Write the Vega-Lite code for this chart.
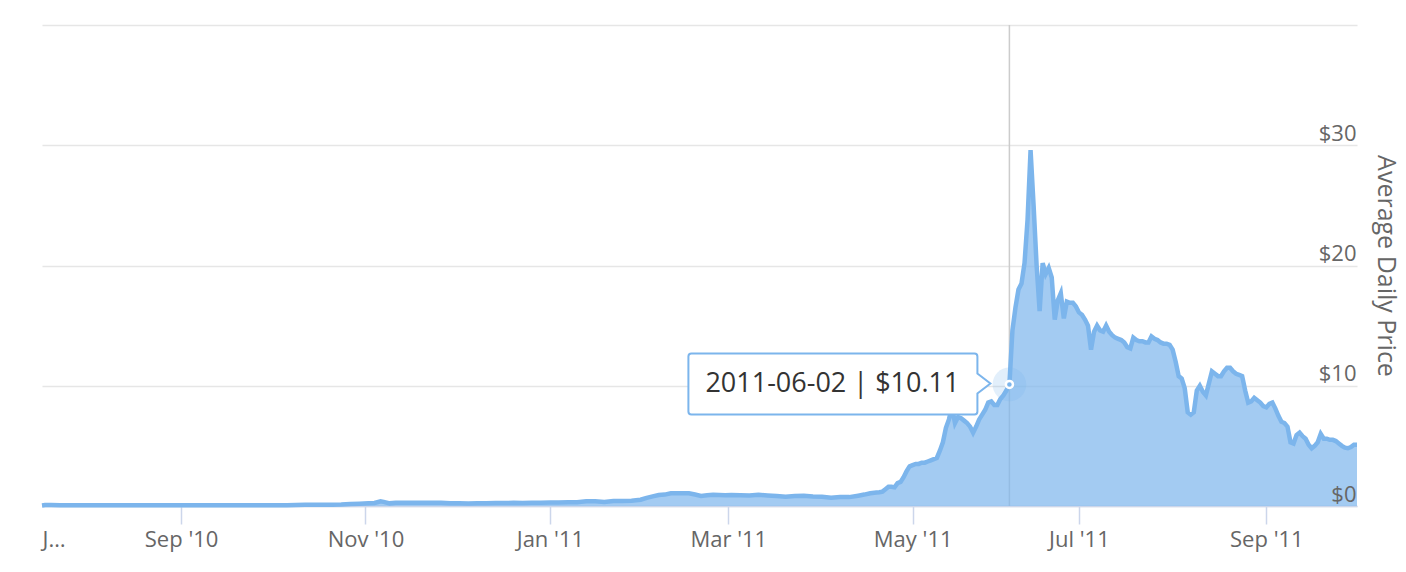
{
  "$schema": "https://vega.github.io/schema/vega-lite/v6.json",
  "width": 1315,
  "height": 481,
  "autosize": {"type": "none"},
  "padding": {"left": 42, "top": 25, "right": 49, "bottom": 66},
  "background": "white",
  "config": {"view": {"stroke": null}},
  "resolve": {"axis": {"y": "independent"}},
  "datasets": {
    "prices": [
      {"date": "2010-07-17", "price": 0.05},
      {"date": "2010-07-18", "price": 0.086},
      {"date": "2010-07-20", "price": 0.08},
      {"date": "2010-07-23", "price": 0.06},
      {"date": "2010-07-26", "price": 0.055},
      {"date": "2010-07-29", "price": 0.07},
      {"date": "2010-08-01", "price": 0.063},
      {"date": "2010-08-04", "price": 0.062},
      {"date": "2010-08-07", "price": 0.059},
      {"date": "2010-08-10", "price": 0.07},
      {"date": "2010-08-13", "price": 0.065},
      {"date": "2010-08-16", "price": 0.067},
      {"date": "2010-08-19", "price": 0.067},
      {"date": "2010-08-22", "price": 0.066},
      {"date": "2010-08-25", "price": 0.066},
      {"date": "2010-08-28", "price": 0.065},
      {"date": "2010-08-31", "price": 0.06},
      {"date": "2010-09-03", "price": 0.061},
      {"date": "2010-09-06", "price": 0.062},
      {"date": "2010-09-09", "price": 0.061},
      {"date": "2010-09-12", "price": 0.062},
      {"date": "2010-09-15", "price": 0.06},
      {"date": "2010-09-18", "price": 0.063},
      {"date": "2010-09-21", "price": 0.062},
      {"date": "2010-09-24", "price": 0.062},
      {"date": "2010-09-27", "price": 0.062},
      {"date": "2010-09-30", "price": 0.062},
      {"date": "2010-10-03", "price": 0.063},
      {"date": "2010-10-06", "price": 0.065},
      {"date": "2010-10-09", "price": 0.085},
      {"date": "2010-10-12", "price": 0.095},
      {"date": "2010-10-15", "price": 0.105},
      {"date": "2010-10-18", "price": 0.102},
      {"date": "2010-10-21", "price": 0.107},
      {"date": "2010-10-24", "price": 0.115},
      {"date": "2010-10-27", "price": 0.165},
      {"date": "2010-10-30", "price": 0.19},
      {"date": "2010-11-02", "price": 0.22},
      {"date": "2010-11-04", "price": 0.25},
      {"date": "2010-11-06", "price": 0.39},
      {"date": "2010-11-07", "price": 0.34},
      {"date": "2010-11-09", "price": 0.22},
      {"date": "2010-11-11", "price": 0.27},
      {"date": "2010-11-14", "price": 0.28},
      {"date": "2010-11-17", "price": 0.26},
      {"date": "2010-11-20", "price": 0.28},
      {"date": "2010-11-23", "price": 0.28},
      {"date": "2010-11-26", "price": 0.28},
      {"date": "2010-11-29", "price": 0.23},
      {"date": "2010-12-02", "price": 0.22},
      {"date": "2010-12-05", "price": 0.2},
      {"date": "2010-12-08", "price": 0.23},
      {"date": "2010-12-11", "price": 0.22},
      {"date": "2010-12-14", "price": 0.24},
      {"date": "2010-12-17", "price": 0.25},
      {"date": "2010-12-20", "price": 0.26},
      {"date": "2010-12-23", "price": 0.25},
      {"date": "2010-12-26", "price": 0.26},
      {"date": "2010-12-29", "price": 0.28},
      {"date": "2011-01-01", "price": 0.3},
      {"date": "2011-01-04", "price": 0.3},
      {"date": "2011-01-07", "price": 0.32},
      {"date": "2011-01-10", "price": 0.32},
      {"date": "2011-01-13", "price": 0.39},
      {"date": "2011-01-16", "price": 0.39},
      {"date": "2011-01-19", "price": 0.34},
      {"date": "2011-01-22", "price": 0.42},
      {"date": "2011-01-25", "price": 0.41},
      {"date": "2011-01-28", "price": 0.44},
      {"date": "2011-01-31", "price": 0.52},
      {"date": "2011-02-02", "price": 0.68},
      {"date": "2011-02-04", "price": 0.8},
      {"date": "2011-02-06", "price": 0.92},
      {"date": "2011-02-08", "price": 0.95},
      {"date": "2011-02-10", "price": 1.06},
      {"date": "2011-02-12", "price": 1.05},
      {"date": "2011-02-14", "price": 1.05},
      {"date": "2011-02-16", "price": 1.05},
      {"date": "2011-02-18", "price": 0.95},
      {"date": "2011-02-20", "price": 0.84},
      {"date": "2011-02-22", "price": 0.89},
      {"date": "2011-02-24", "price": 0.94},
      {"date": "2011-02-26", "price": 0.92},
      {"date": "2011-02-28", "price": 0.9},
      {"date": "2011-03-02", "price": 0.92},
      {"date": "2011-03-05", "price": 0.9},
      {"date": "2011-03-08", "price": 0.87},
      {"date": "2011-03-11", "price": 0.93},
      {"date": "2011-03-14", "price": 0.88},
      {"date": "2011-03-17", "price": 0.83},
      {"date": "2011-03-20", "price": 0.76},
      {"date": "2011-03-23", "price": 0.84},
      {"date": "2011-03-26", "price": 0.86},
      {"date": "2011-03-29", "price": 0.79},
      {"date": "2011-04-01", "price": 0.77},
      {"date": "2011-04-04", "price": 0.68},
      {"date": "2011-04-07", "price": 0.74},
      {"date": "2011-04-10", "price": 0.74},
      {"date": "2011-04-13", "price": 0.86},
      {"date": "2011-04-15", "price": 0.95},
      {"date": "2011-04-17", "price": 1.06},
      {"date": "2011-04-19", "price": 1.12},
      {"date": "2011-04-20", "price": 1.14},
      {"date": "2011-04-21", "price": 1.2},
      {"date": "2011-04-22", "price": 1.4},
      {"date": "2011-04-23", "price": 1.6},
      {"date": "2011-04-24", "price": 1.6},
      {"date": "2011-04-25", "price": 1.55},
      {"date": "2011-04-26", "price": 1.9},
      {"date": "2011-04-27", "price": 2.0},
      {"date": "2011-04-28", "price": 2.4},
      {"date": "2011-04-29", "price": 2.9},
      {"date": "2011-04-30", "price": 3.3},
      {"date": "2011-05-01", "price": 3.4},
      {"date": "2011-05-02", "price": 3.5},
      {"date": "2011-05-03", "price": 3.5},
      {"date": "2011-05-04", "price": 3.6},
      {"date": "2011-05-05", "price": 3.6},
      {"date": "2011-05-06", "price": 3.7},
      {"date": "2011-05-07", "price": 3.8},
      {"date": "2011-05-08", "price": 3.9},
      {"date": "2011-05-09", "price": 4.0},
      {"date": "2011-05-10", "price": 4.6},
      {"date": "2011-05-11", "price": 5.3},
      {"date": "2011-05-12", "price": 6.5},
      {"date": "2011-05-13", "price": 7.2},
      {"date": "2011-05-14", "price": 8.2},
      {"date": "2011-05-15", "price": 6.9},
      {"date": "2011-05-16", "price": 7.4},
      {"date": "2011-05-17", "price": 7.3},
      {"date": "2011-05-18", "price": 7.1},
      {"date": "2011-05-19", "price": 6.9},
      {"date": "2011-05-20", "price": 6.6},
      {"date": "2011-05-21", "price": 6.1},
      {"date": "2011-05-22", "price": 6.6},
      {"date": "2011-05-23", "price": 7.2},
      {"date": "2011-05-24", "price": 7.6},
      {"date": "2011-05-25", "price": 8.0},
      {"date": "2011-05-26", "price": 8.6},
      {"date": "2011-05-27", "price": 8.7},
      {"date": "2011-05-28", "price": 8.4},
      {"date": "2011-05-29", "price": 8.4},
      {"date": "2011-05-30", "price": 8.9},
      {"date": "2011-05-31", "price": 9.2},
      {"date": "2011-06-01", "price": 9.6},
      {"date": "2011-06-02", "price": 10.11},
      {"date": "2011-06-03", "price": 14.6},
      {"date": "2011-06-04", "price": 16.5},
      {"date": "2011-06-05", "price": 18.0},
      {"date": "2011-06-06", "price": 18.5},
      {"date": "2011-06-07", "price": 20.2},
      {"date": "2011-06-08", "price": 23.8},
      {"date": "2011-06-09", "price": 29.6},
      {"date": "2011-06-10", "price": 25.0},
      {"date": "2011-06-11", "price": 20.0},
      {"date": "2011-06-12", "price": 16.2},
      {"date": "2011-06-13", "price": 20.2},
      {"date": "2011-06-14", "price": 19.3},
      {"date": "2011-06-15", "price": 19.8},
      {"date": "2011-06-16", "price": 19.0},
      {"date": "2011-06-17", "price": 15.5},
      {"date": "2011-06-18", "price": 17.1},
      {"date": "2011-06-19", "price": 17.7},
      {"date": "2011-06-25", "price": 17.7},
      {"date": "2011-06-26", "price": 15.6},
      {"date": "2011-06-27", "price": 17.0},
      {"date": "2011-06-28", "price": 16.9},
      {"date": "2011-06-29", "price": 16.9},
      {"date": "2011-06-30", "price": 16.6},
      {"date": "2011-07-01", "price": 16.1},
      {"date": "2011-07-02", "price": 15.9},
      {"date": "2011-07-03", "price": 15.5},
      {"date": "2011-07-04", "price": 15.0},
      {"date": "2011-07-05", "price": 13.0},
      {"date": "2011-07-06", "price": 14.5},
      {"date": "2011-07-07", "price": 15.0},
      {"date": "2011-07-08", "price": 14.6},
      {"date": "2011-07-09", "price": 14.5},
      {"date": "2011-07-10", "price": 15.0},
      {"date": "2011-07-11", "price": 14.5},
      {"date": "2011-07-12", "price": 14.2},
      {"date": "2011-07-13", "price": 14.0},
      {"date": "2011-07-14", "price": 13.9},
      {"date": "2011-07-15", "price": 13.8},
      {"date": "2011-07-16", "price": 13.6},
      {"date": "2011-07-17", "price": 13.2},
      {"date": "2011-07-18", "price": 13.1},
      {"date": "2011-07-19", "price": 14.0},
      {"date": "2011-07-20", "price": 13.8},
      {"date": "2011-07-21", "price": 13.7},
      {"date": "2011-07-22", "price": 13.7},
      {"date": "2011-07-23", "price": 13.6},
      {"date": "2011-07-24", "price": 13.6},
      {"date": "2011-07-25", "price": 14.1},
      {"date": "2011-07-26", "price": 13.9},
      {"date": "2011-07-27", "price": 13.8},
      {"date": "2011-07-28", "price": 13.6},
      {"date": "2011-07-29", "price": 13.5},
      {"date": "2011-07-30", "price": 13.5},
      {"date": "2011-07-31", "price": 13.4},
      {"date": "2011-08-01", "price": 13.0},
      {"date": "2011-08-02", "price": 12.0},
      {"date": "2011-08-03", "price": 10.8},
      {"date": "2011-08-04", "price": 10.6},
      {"date": "2011-08-05", "price": 9.8},
      {"date": "2011-08-06", "price": 7.8},
      {"date": "2011-08-07", "price": 7.6},
      {"date": "2011-08-08", "price": 7.8},
      {"date": "2011-08-09", "price": 9.6},
      {"date": "2011-08-10", "price": 10.0},
      {"date": "2011-08-11", "price": 9.5},
      {"date": "2011-08-12", "price": 9.2},
      {"date": "2011-08-13", "price": 10.2},
      {"date": "2011-08-14", "price": 11.2},
      {"date": "2011-08-15", "price": 11.0},
      {"date": "2011-08-16", "price": 10.8},
      {"date": "2011-08-17", "price": 10.8},
      {"date": "2011-08-18", "price": 11.2},
      {"date": "2011-08-19", "price": 11.5},
      {"date": "2011-08-20", "price": 11.5},
      {"date": "2011-08-21", "price": 11.2},
      {"date": "2011-08-22", "price": 11.0},
      {"date": "2011-08-23", "price": 10.9},
      {"date": "2011-08-24", "price": 10.8},
      {"date": "2011-08-25", "price": 9.6},
      {"date": "2011-08-26", "price": 8.6},
      {"date": "2011-08-27", "price": 8.7},
      {"date": "2011-08-28", "price": 9.0},
      {"date": "2011-08-29", "price": 8.8},
      {"date": "2011-08-30", "price": 8.6},
      {"date": "2011-08-31", "price": 8.3},
      {"date": "2011-09-01", "price": 8.2},
      {"date": "2011-09-02", "price": 8.5},
      {"date": "2011-09-03", "price": 8.6},
      {"date": "2011-09-04", "price": 8.1},
      {"date": "2011-09-05", "price": 7.5},
      {"date": "2011-09-06", "price": 7.0},
      {"date": "2011-09-07", "price": 6.9},
      {"date": "2011-09-08", "price": 6.6},
      {"date": "2011-09-09", "price": 5.3},
      {"date": "2011-09-10", "price": 5.2},
      {"date": "2011-09-11", "price": 5.9},
      {"date": "2011-09-12", "price": 6.1},
      {"date": "2011-09-13", "price": 5.8},
      {"date": "2011-09-14", "price": 5.6},
      {"date": "2011-09-15", "price": 5.1},
      {"date": "2011-09-16", "price": 4.8},
      {"date": "2011-09-17", "price": 5.0},
      {"date": "2011-09-18", "price": 5.3},
      {"date": "2011-09-19", "price": 6.0},
      {"date": "2011-09-20", "price": 5.6},
      {"date": "2011-09-21", "price": 5.6},
      {"date": "2011-09-22", "price": 5.5},
      {"date": "2011-09-23", "price": 5.5},
      {"date": "2011-09-24", "price": 5.4},
      {"date": "2011-09-25", "price": 5.2},
      {"date": "2011-09-26", "price": 5.0},
      {"date": "2011-09-27", "price": 4.85},
      {"date": "2011-09-28", "price": 4.8},
      {"date": "2011-09-29", "price": 4.9},
      {"date": "2011-09-30", "price": 5.1},
      {"date": "2011-10-01", "price": 5.1}
    ],
    "hover": [
      {"date": "2011-06-02", "price": 10.11, "label": "2011-06-02 | $10.11"}
    ]
  },
  "encoding": {
    "x": {
      "field": "date",
      "type": "temporal",
      "title": null,
      "scale": {
        "type": "utc",
        "domainRaw": {"expr": "[1279324800000, 1308441600000, 1308960000000, 1317427200000]"},
        "range": [0, 1018.8, 1018.8, 1315],
        "nice": false
      },
      "axis": {
        "values": [1279324800000, 1283299200000, 1288569600000, 1293840000000, 1298937600000, 1304208000000, 1309478400000, 1314835200000],
        "labelExpr": "datum.value < 1281000000000 ? 'J…' : utcFormat(datum.value, \"%b '%y\")",
        "labelFlush": true,
        "labelOverlap": false,
        "grid": false,
        "domain": true,
        "domainColor": "#ccd6eb",
        "domainWidth": 1.5,
        "ticks": true,
        "tickColor": "#ccd6eb",
        "tickWidth": 1.5,
        "tickSize": 18,
        "tickOpacity": {"condition": {"test": "datum.value < 1281000000000", "value": 0}, "value": 1},
        "labelFont": "Open Sans",
        "labelFontSize": 22,
        "labelColor": "#666666",
        "labelPadding": 5
      }
    }
  },
  "layer": [
    {
      "data": {"name": "hover"},
      "mark": {"type": "rule", "color": "#cccccc", "strokeWidth": 1.5}
    },
    {
      "data": {"name": "prices"},
      "mark": {
        "type": "area",
        "color": "#7cb5ec",
        "fillOpacity": 0.7,
        "line": {"color": "#7cb5ec", "strokeWidth": 4.5}
      },
      "encoding": {
        "y": {
          "field": "price",
          "type": "quantitative",
          "scale": {"domain": [0, 40], "nice": false},
          "axis": {
            "orient": "right",
            "values": [0, 10, 20, 30, 40],
            "grid": true,
            "gridColor": "#e6e6e6",
            "gridWidth": 1.5,
            "domain": false,
            "ticks": false,
            "labels": false,
            "title": null,
            "zindex": 0
          }
        }
      }
    },
    {
      "data": {"name": "hover"},
      "mark": {"type": "circle", "size": 1134, "color": "#7cb5ec", "opacity": 0.22},
      "encoding": {
        "y": {
          "field": "price",
          "type": "quantitative",
          "scale": {"domain": [0, 40], "nice": false},
          "axis": {
            "orient": "right",
            "values": [0, 10, 20, 30, 40],
            "labelExpr": "datum.value >= 40 ? '' : '$' + datum.value",
            "grid": false,
            "domain": false,
            "ticks": false,
            "zindex": 1,
            "offset": 0,
            "labelAlign": "right",
            "labelBaseline": "alphabetic",
            "labelPadding": -1,
            "labelOffset": -5,
            "labelFont": "Open Sans",
            "labelFontSize": 22,
            "labelColor": "#666666",
            "title": "Average Daily Price",
            "titleAngle": 90,
            "titleFont": "Open Sans",
            "titleFontSize": 25,
            "titleFontWeight": "normal",
            "titleColor": "#666666",
            "titleX": 28,
            "titleY": 240.5,
            "titleAlign": "center",
            "titleBaseline": "middle"
          }
        }
      }
    },
    {
      "data": {"name": "hover"},
      "mark": {"type": "point", "filled": true, "size": 50, "fill": "#7cb5ec", "stroke": "white", "strokeWidth": 2.5, "opacity": 1},
      "encoding": {"y": {"field": "price", "type": "quantitative", "scale": {"domain": [0, 40], "nice": false}, "axis": null}}
    },
    {
      "data": {"name": "hover"},
      "mark": {
        "type": "point",
        "shape": "M -318 -31 L -35 -31 Q -32 -31 -32 -28 L -32 -11 L -19 -1 L -32 9 L -32 27 Q -32 30 -35 30 L -318 30 Q -321 30 -321 27 L -321 -28 Q -321 -31 -318 -31 Z",
        "size": 4,
        "filled": true,
        "fill": "white",
        "stroke": "#7cb5ec",
        "strokeWidth": 2,
        "opacity": 1
      },
      "encoding": {"y": {"field": "price", "type": "quantitative", "scale": {"domain": [0, 40], "nice": false}, "axis": null}}
    },
    {
      "data": {"name": "hover"},
      "mark": {"type": "text", "align": "center", "baseline": "middle", "dx": -177, "dy": 0, "font": "Open Sans", "fontSize": 27, "color": "#333333"},
      "encoding": {
        "y": {"field": "price", "type": "quantitative", "scale": {"domain": [0, 40], "nice": false}, "axis": null},
        "text": {"field": "label"}
      }
    }
  ]
}
